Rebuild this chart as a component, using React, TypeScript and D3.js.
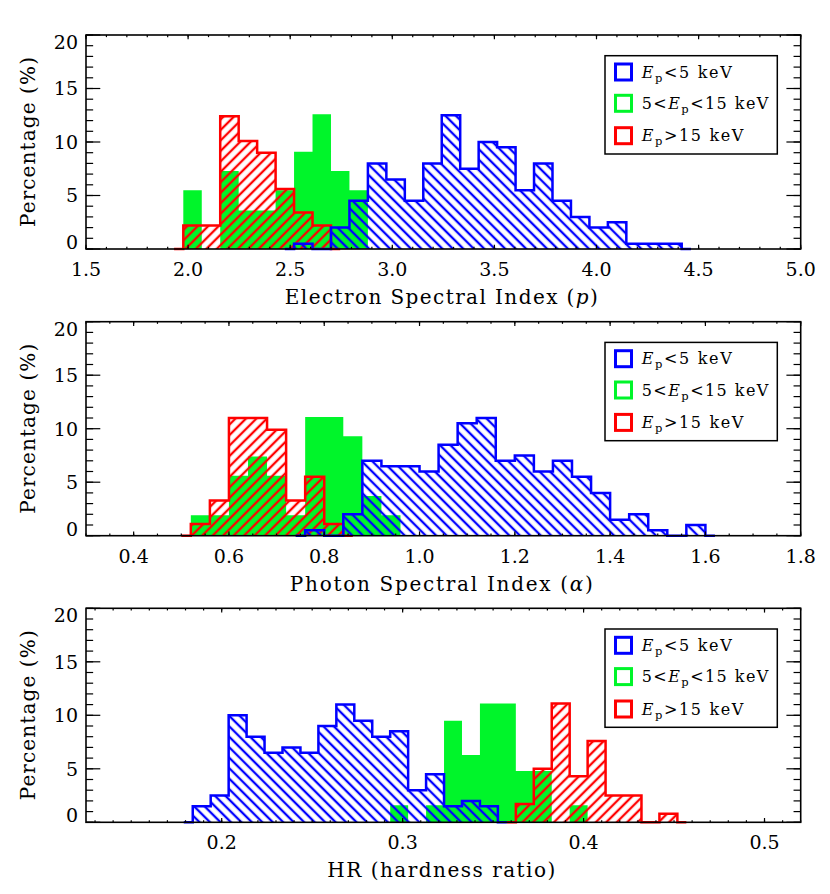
import * as d3 from "d3";

const W = 830;
const H = 894;
const LEFT = 86;
const RIGHT = 800.7;
const PANEL_H = 214;
const PANEL_TOPS = [35, 321.7, 608.3];

const BLUE = "#0000ff";
const GREEN = "#00f52a";
const RED = "#ff0000";
const FONT = "'DejaVu Serif', serif";

// percentage axis, shared by the three panels
const yTicks = [0, 5, 10, 15, 20];
const yMinorStep = 1;

// panel 1: electron spectral index p
const pDomain = [1.5, 5.0];
const pTicks = [1.5, 2.0, 2.5, 3.0, 3.5, 4.0, 4.5, 5.0];
const pMinorStep = 0.1;
const pBinStart = 1.9765;
const pBinWidth = 0.0904;
const pLow = [0, 0, 0, 0, 0, 0, 0.5, 0, 2.0, 4.5, 8.0, 6.5, 4.5, 8.0, 12.5, 7.5, 10.0, 9.5, 5.5, 8.0, 4.5, 3.0, 2.0, 2.5, 0.5, 0.5, 0.5];
const pMid = [5.5, 0, 7.3, 3.6, 3.6, 5.5, 9.1, 12.6, 7.3, 5.5];
const pHigh = [2.2, 2.2, 12.4, 10.1, 9.0, 5.6, 3.4, 2.2];

// panel 2: photon spectral index alpha
const aDomain = [0.3, 1.8];
const aTicks = [0.4, 0.6, 0.8, 1.0, 1.2, 1.4, 1.6, 1.8];
const aMinorStep = 0.05;
const aBinStart = 0.52;
const aBinWidth = 0.04;
const aLow = [0, 0, 0, 0, 0, 0, 0.5, 0, 2.0, 7.0, 6.5, 6.5, 6.0, 8.5, 10.5, 11.0, 7.0, 7.5, 6.0, 7.0, 5.5, 4.0, 1.5, 2.0, 0.5, 0, 1.0];
const aMid = [1.9, 1.9, 5.6, 7.4, 5.6, 1.9, 11.1, 11.1, 9.3, 3.7, 1.9];
const aHigh = [1.1, 3.3, 11.0, 11.0, 9.9, 3.3, 5.5, 1.1];

// panel 3: hardness ratio
const hrDomain = [0.125, 0.52];
const hrTicks = [0.2, 0.3, 0.4, 0.5];
const hrMinorStep = 0.01;
const hrBinStart = 0.184;
const hrBinWidth = 0.00992;
const hrLow = [1.5, 2.5, 10.0, 8.0, 6.5, 7.0, 6.5, 9.0, 11.0, 9.5, 8.0, 8.5, 3.0, 4.5, 1.5, 2.0, 1.5];
const hrMid = [0, 0, 0, 0, 0, 0, 0, 0, 0, 0, 0, 1.6, 0, 1.6, 9.5, 6.3, 11.1, 11.1, 4.8, 4.8, 0, 1.6];
const hrHigh = [0, 0, 0, 0, 0, 0, 0, 0, 0, 0, 0, 0, 0, 0, 0, 0, 0, 0, 1.7, 5.0, 11.1, 4.3, 7.6, 2.5, 2.5, 0, 0.8];

type Pt = [number, number];

// step outline: half a bin of zero level on both sides, like IDL psym=10
function stepPoints(values: number[], start: number, width: number): Pt[] {
  const first = values.findIndex((v) => v > 0);
  let last = values.length - 1;
  while (last >= 0 && values[last] <= 0) last--;
  const pts: Pt[] = [[start + (first - 0.5) * width, 0]];
  for (let i = first; i <= last; i++) pts.push([start + i * width, values[i]]);
  pts.push([start + (last + 1) * width, 0]);
  pts.push([start + (last + 1.5) * width, 0]);
  return pts;
}

function Legend({ top }: { top: number }) {
  const x0 = 605;
  const rows = [
    { color: BLUE, cy: top + 37, len: 90, parts: ["", "<5 keV"] },
    { color: GREEN, cy: top + 68.3, len: 126.7, parts: ["5<", "<15 keV"] },
    { color: RED, cy: top + 100.7, len: 101.7, parts: ["", ">15 keV"] },
  ];
  return (
    <g>
      <rect x={x0} y={top + 20.7} width={172.3} height={98.3} fill="#fff" stroke="#000" strokeWidth={1.5} />
      {rows.map((r, i) => (
        <g key={i}>
          <rect x={615.5} y={r.cy - 8} width={16} height={16} fill="none" stroke={r.color} strokeWidth={3} />
          <text
            x={641.7}
            y={r.cy + 5.5}
            fontFamily={FONT}
            fontSize={16}
            textLength={r.len}
            lengthAdjust="spacing"
          >
            {r.parts[0]}
            <tspan fontStyle="italic">E</tspan>
            <tspan fontSize={11.5} dy={4}>p</tspan>
            <tspan dy={-4}>{r.parts[1]}</tspan>
          </text>
        </g>
      ))}
    </g>
  );
}

interface PanelProps {
  top: number;
  domain: number[];
  ticks: number[];
  minorStep: number;
  binStart: number;
  binWidth: number;
  low: number[];
  mid: number[];
  high: number[];
  title: React.ReactNode;
  titleLen: number;
}

function Panel(props: PanelProps) {
  const { top, domain, ticks, minorStep, binStart, binWidth, low, mid, high, title, titleLen } = props;
  const bottom = top + PANEL_H;
  const x = d3.scaleLinear().domain(domain).range([LEFT, RIGHT]);
  const y = d3.scaleLinear().domain([0, 20]).range([bottom, top]);

  const line = d3
    .line<Pt>()
    .x((d) => x(d[0]))
    .y((d) => y(d[1]))
    .curve(d3.curveStepAfter);
  const area = d3
    .area<Pt>()
    .x((d) => x(d[0]))
    .y0(y(0))
    .y1((d) => y(d[1]))
    .curve(d3.curveStepAfter);

  const lowPts = stepPoints(low, binStart, binWidth);
  const midPts = stepPoints(mid, binStart, binWidth);
  const highPts = stepPoints(high, binStart, binWidth);

  const xMinor = d3
    .range(Math.ceil(domain[0] / minorStep - 1e-6), Math.floor(domain[1] / minorStep + 1e-6) + 1)
    .map((k) => k * minorStep);
  const yMinor = d3.range(0, 20 + yMinorStep / 2, yMinorStep);

  const xMajLen = 0.02 * PANEL_H;
  const yMajLen = 0.02 * (RIGHT - LEFT);

  return (
    <g>
      {/* histograms: solid middle band, hatched high and low bands */}
      <path d={area(midPts) ?? ""} fill={GREEN} />
      <path d={area(highPts) ?? ""} fill="url(#hatch-red)" />
      <path d={line(highPts) ?? ""} fill="none" stroke={RED} strokeWidth={2.5} />
      <path d={area(lowPts) ?? ""} fill="url(#hatch-blue)" />
      <path d={line(lowPts) ?? ""} fill="none" stroke={BLUE} strokeWidth={2.5} />

      {/* box and ticks */}
      <g stroke="#000" strokeWidth={1.2}>
        {xMinor.map((v, i) => (
          <g key={"xm" + i}>
            <line x1={x(v)} x2={x(v)} y1={bottom} y2={bottom - xMajLen / 2} />
            <line x1={x(v)} x2={x(v)} y1={top} y2={top + xMajLen / 2} />
          </g>
        ))}
        {ticks.map((v, i) => (
          <g key={"xt" + i}>
            <line x1={x(v)} x2={x(v)} y1={bottom} y2={bottom - xMajLen} />
            <line x1={x(v)} x2={x(v)} y1={top} y2={top + xMajLen} />
          </g>
        ))}
        {yMinor.map((v, i) => (
          <g key={"ym" + i}>
            <line x1={LEFT} x2={LEFT + yMajLen / 2} y1={y(v)} y2={y(v)} />
            <line x1={RIGHT} x2={RIGHT - yMajLen / 2} y1={y(v)} y2={y(v)} />
          </g>
        ))}
        {yTicks.map((v, i) => (
          <g key={"yt" + i}>
            <line x1={LEFT} x2={LEFT + yMajLen} y1={y(v)} y2={y(v)} />
            <line x1={RIGHT} x2={RIGHT - yMajLen} y1={y(v)} y2={y(v)} />
          </g>
        ))}
      </g>
      <rect x={LEFT} y={top} width={RIGHT - LEFT} height={PANEL_H} fill="none" stroke="#000" strokeWidth={1.6} />

      {/* tick labels */}
      <g fontFamily={FONT} fontSize={19} fill="#000">
        {ticks.map((v, i) => (
          <text key={"xl" + i} x={x(v)} y={bottom + 27} textAnchor="middle">
            {v.toFixed(1)}
          </text>
        ))}
        {yTicks.map((v, i) => {
          const cy = Math.min(Math.max(y(v), top + 7), bottom - 7);
          return (
            <text key={"yl" + i} x={78} y={cy + 6.8} textAnchor="end">
              {v}
            </text>
          );
        })}
      </g>

      {/* axis titles */}
      <text
        x={(LEFT + RIGHT) / 2 - 2}
        y={bottom + 55}
        textAnchor="middle"
        fontFamily={FONT}
        fontSize={20}
        textLength={titleLen}
        lengthAdjust="spacing"
      >
        {title}
      </text>
      <text
        transform={`translate(35,${(top + bottom) / 2}) rotate(-90)`}
        textAnchor="middle"
        fontFamily={FONT}
        fontSize={20}
        textLength={170}
        lengthAdjust="spacing"
      >
        Percentage (%)
      </text>

      <Legend top={top} />
    </g>
  );
}

export default function App() {
  return (
    <svg
      width={W}
      height={H}
      viewBox={`0 0 ${W} ${H}`}
      style={{ position: "absolute", left: 0, top: 0, background: "#fff" }}
    >
      <defs>
        <pattern id="hatch-blue" patternUnits="userSpaceOnUse" width={8} height={7.4} patternTransform="rotate(45)">
          <line x1={0} y1={3.7} x2={8} y2={3.7} stroke={BLUE} strokeWidth={2.3} />
        </pattern>
        <pattern id="hatch-red" patternUnits="userSpaceOnUse" width={8} height={7.4} patternTransform="rotate(-45)">
          <line x1={0} y1={3.7} x2={8} y2={3.7} stroke={RED} strokeWidth={2.3} />
        </pattern>
      </defs>
      <rect width={W} height={H} fill="#fff" />
      <Panel
        top={PANEL_TOPS[0]}
        domain={pDomain}
        ticks={pTicks}
        minorStep={pMinorStep}
        binStart={pBinStart}
        binWidth={pBinWidth}
        low={pLow}
        mid={pMid}
        high={pHigh}
        titleLen={313}
        title={
          <>
            Electron Spectral Index (<tspan fontStyle="italic">p</tspan>)
          </>
        }
      />
      <Panel
        top={PANEL_TOPS[1]}
        domain={aDomain}
        ticks={aTicks}
        minorStep={aMinorStep}
        binStart={aBinStart}
        binWidth={aBinWidth}
        low={aLow}
        mid={aMid}
        high={aHigh}
        titleLen={303}
        title={
          <>
            Photon Spectral Index (<tspan fontStyle="italic">α</tspan>)
          </>
        }
      />
      <Panel
        top={PANEL_TOPS[2]}
        domain={hrDomain}
        ticks={hrTicks}
        minorStep={hrMinorStep}
        binStart={hrBinStart}
        binWidth={hrBinWidth}
        low={hrLow}
        mid={hrMid}
        high={hrHigh}
        titleLen={228}
        title={<>HR (hardness ratio)</>}
      />
    </svg>
  );
}
